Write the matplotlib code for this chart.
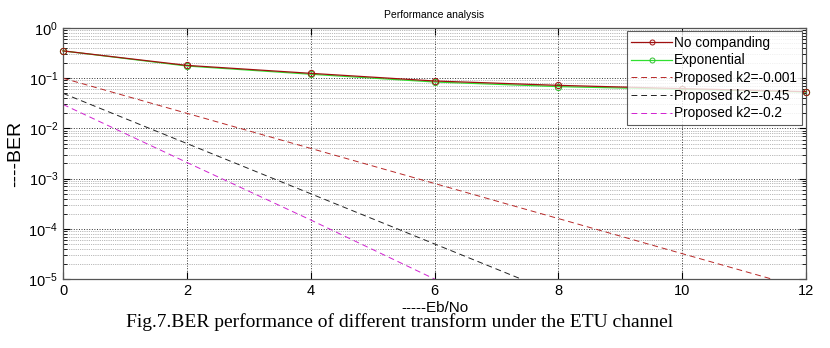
import matplotlib
matplotlib.use("Agg")
import matplotlib.pyplot as plt
from matplotlib.ticker import LogLocator, NullFormatter, FixedLocator
import numpy as np

ebno = [0, 2, 4, 6, 8, 10, 12]
ber_no_comp = [0.35, 0.18, 0.125, 0.088, 0.072, 0.062, 0.054]
ber_expo = [0.35, 0.175, 0.12, 0.084, 0.068, 0.060, 0.053]
ber_k001 = [0.1, 0.02, 0.004, 0.0008, 0.00016, 0.000032, 0.0000064]
ber_k045 = [0.05, 0.005, 0.0005, 0.00005, 0.000005, 0.0000005, 0.00000005]
ber_k02 = [0.03, 0.0021, 0.00015, 0.00001, 0.0000007, 0.00000005, 0.000000004]

plt.rcParams['font.family'] = ['Liberation Sans', 'DejaVu Sans']
fig = plt.figure(figsize=(8.3, 3.48), dpi=100)
ax = fig.add_axes([63/830, 1-279/348, (806-63)/830, (279-28)/348])

ax.semilogy(ebno, ber_no_comp, color='#a01010', lw=0.9, marker='o', ms=4.5,
            mfc='none', mec='#a01010', mew=0.7, label='No companding', clip_on=False, zorder=4)
ax.semilogy(ebno, ber_expo, color='#30e030', lw=0.9, marker='o', ms=4.5,
            mfc='none', mec='#30c030', mew=0.7, label='Exponential', clip_on=False, zorder=3)
ax.semilogy(ebno, ber_k001, color='#b82828', lw=0.7, ls=(0, (6, 4)), label='Proposed k2=-0.001')
ax.semilogy(ebno, ber_k045, color='#202020', lw=0.7, ls=(0, (6, 4)), label='Proposed k2=-0.45')
ax.semilogy(ebno, ber_k02, color='#d020d0', lw=0.7, ls=(0, (6, 4)), label='Proposed k2=-0.2')

ax.set_xlim(0, 12)
ax.set_ylim(1e-5, 1)
ax.set_xticks([0, 2, 4, 6, 8, 10, 12])
ax.yaxis.set_major_locator(FixedLocator([1e-5, 1e-4, 1e-3, 1e-2, 1e-1, 1]))
ax.yaxis.set_minor_locator(LogLocator(base=10, subs=np.arange(2, 10), numticks=20))
ax.yaxis.set_minor_formatter(NullFormatter())
ax.tick_params(which='both', direction='in', top=True, right=True, labelsize=10.5)
ax.tick_params(which='major', length=5)
ax.tick_params(which='minor', length=3)
ax.grid(True, which='major', ls=':', color='#333333', lw=0.7)
ax.grid(True, which='minor', axis='y', ls=':', color='#777777', lw=0.5)
for s in ax.spines.values():
    s.set_color('#555555')
    s.set_linewidth(0.9)

ax.set_title('Performance analysis', fontsize=7.5, pad=7)
ax.set_ylabel('----BER', fontsize=14, labelpad=3)
ax.set_xlabel('-----Eb/No', fontsize=11, labelpad=2)

leg = ax.legend(loc='upper right', bbox_to_anchor=(802/830, 1-31/348), bbox_transform=fig.transFigure,
                fontsize=9.8, frameon=True, fancybox=False, edgecolor='#333333',
                handlelength=3.0, handletextpad=0.15, labelspacing=0.27, borderpad=0.35,
                borderaxespad=0, markerscale=0.8)
leg.get_frame().set_linewidth(0.8)

fig.text(400/830, 1-322/348, 'Fig.7.BER performance of different transform under the ETU channel',
         ha='center', va='center', fontsize=14, family=['Liberation Serif', 'DejaVu Serif'])

fig.savefig('out.png', dpi=100)
